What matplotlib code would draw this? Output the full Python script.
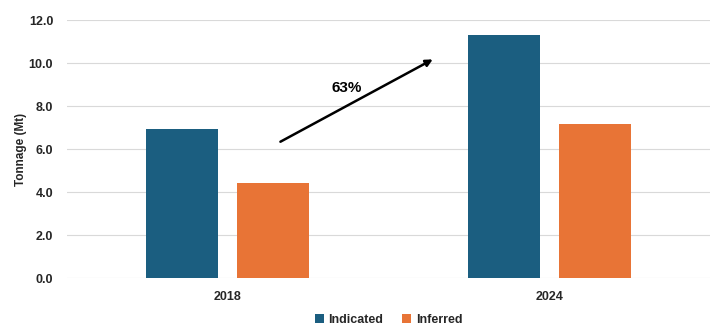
import numpy as np
import matplotlib
matplotlib.use("Agg")
import matplotlib.pyplot as plt

plt.rcParams["font.family"] = ["Liberation Sans Narrow", "Liberation Sans", "DejaVu Sans"]

years = ["2018", "2024"]
indicated = [6.95, 11.3]
inferred = [4.4, 7.15]
growth_label = "63%"

fig = plt.figure(figsize=(7.13, 3.28), dpi=100)
ax = fig.add_axes([0.094, 0.152, 0.902, 0.787])

x = np.arange(len(years))
w = 0.224
ax.bar(x - 0.142, indicated, w, color="#1B5E80", label="Indicated", zorder=3)
ax.bar(x + 0.142, inferred, w, color="#E87436", label="Inferred", zorder=3)

ax.set_xlim(-0.5, 1.5)
ax.set_ylim(0, 12)
ax.set_yticks(np.arange(0, 12.1, 2))
ax.set_yticklabels([f"{v:.1f}" for v in np.arange(0, 12.1, 2)])
ax.set_xticks(x)
ax.set_xticklabels(years)
ax.grid(axis="y", color="#D9D9D9", linewidth=0.8, zorder=0)
for s in ax.spines.values():
    s.set_visible(False)
ax.tick_params(length=0, labelsize=9, pad=10)
ax.tick_params(axis="x", pad=9)
for lbl in ax.get_xticklabels() + ax.get_yticklabels():
    lbl.set_fontweight("bold")
    lbl.set_color("#262626")
ax.set_ylabel("Tonnage (Mt)", fontsize=8.5, fontweight="bold", color="#262626", labelpad=1)

ax.annotate("", xy=(0.645, 10.23), xytext=(0.156, 6.28),
            arrowprops=dict(arrowstyle="-|>", color="black", lw=1.8, mutation_scale=10))
ax.text(0.37, 8.85, growth_label, fontsize=11, fontweight="bold", ha="center", va="center",
        family=["Liberation Sans", "DejaVu Sans"])

leg = ax.legend(loc="upper center", bbox_to_anchor=(0.5, -0.095), ncol=2, frameon=False,
                fontsize=9, handlelength=0.7, handleheight=0.7, columnspacing=1.5, handletextpad=0.4)
for t in leg.get_texts():
    t.set_fontweight("bold")
    t.set_color("#262626")

fig.savefig("out.png", dpi=100)
